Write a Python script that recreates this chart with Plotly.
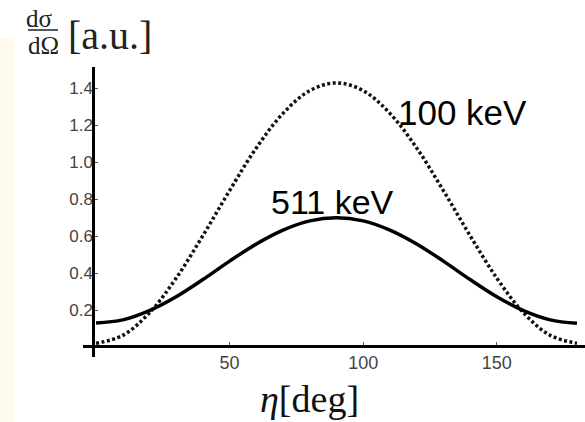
import plotly.graph_objects as go

# Data
eta_deg = [0, 10, 20, 30, 40, 50, 60, 70, 80, 90, 100, 110, 120, 130, 140, 150, 160, 170, 180]
sigma_511 = [0.13, 0.147, 0.197, 0.272, 0.365, 0.465, 0.558, 0.633, 0.683, 0.70,
             0.683, 0.633, 0.558, 0.465, 0.365, 0.272, 0.197, 0.147, 0.128]
sigma_100 = [0.02, 0.063, 0.185, 0.373, 0.603, 0.847, 1.078, 1.265, 1.388, 1.43,
             1.388, 1.265, 1.078, 0.847, 0.603, 0.373, 0.185, 0.063, 0.02]
x_ticks = [50, 100, 150]
y_ticks = [0.2, 0.4, 0.6, 0.8, 1.0, 1.2, 1.4]
labels = ["100 keV", "511 keV"]

W, H = 585, 422


def px(x):
    return x / W


def py(y):
    return 1 - y / H


fig = go.Figure()
fig.add_trace(go.Scatter(x=eta_deg, y=sigma_100, mode="lines",
                         line=dict(color="#111111", width=3.5, dash="3px,2.5px", shape="spline"),
                         showlegend=False, hoverinfo="skip"))
fig.add_trace(go.Scatter(x=eta_deg, y=sigma_511, mode="lines",
                         line=dict(color="black", width=3.5, shape="spline"),
                         showlegend=False, hoverinfo="skip"))

# pixel mapping: x=0 at 96px, 2.672 px/deg ; y=0 at 347px, 184.7 px/unit
x0pix, xs = 96.0, 2.672
y0pix, ys = 347.0, 184.7
xr = [(83 - x0pix) / xs, (585 - x0pix) / xs]
yr = [(y0pix - 357) / ys, (y0pix - 67) / ys]

fig.update_layout(
    width=W, height=H,
    margin=dict(l=0, r=0, t=0, b=0),
    paper_bgcolor="white", plot_bgcolor="white",
    xaxis=dict(domain=[px(83), 1], range=xr, anchor="free", position=py(346),
               showgrid=False, zeroline=False, showline=True, linewidth=3, linecolor="black",
               ticks="inside", ticklen=3, tickwidth=1, tickcolor="#555",
               tickvals=x_ticks, ticklabelstandoff=-1,
               tickfont=dict(family="Liberation Sans", size=18, color="#444")),
    yaxis=dict(domain=[py(357), py(67)], range=yr, anchor="free", position=px(93.3),
               showgrid=False, zeroline=False, showline=True, linewidth=3, linecolor="black",
               ticks="inside", ticklen=3, tickwidth=1, tickcolor="#555",
               tickvals=y_ticks, tickformat=".1f", ticklabelstandoff=-4,
               tickfont=dict(family="Liberation Sans", size=17, color="#444")),
    shapes=[
        dict(type="rect", xref="paper", yref="paper", x0=0, x1=px(14), y0=py(422), y1=py(38),
             fillcolor="#FFF9EE", line=dict(width=0), layer="below"),
        dict(type="line", xref="paper", yref="paper", x0=px(28), x1=px(58), y0=py(30), y1=py(30),
             line=dict(color="#222", width=1.5)),
    ],
    annotations=[
        dict(text=labels[0], xref="paper", yref="paper", x=px(462), y=py(113),
             xanchor="center", yanchor="middle", showarrow=False,
             font=dict(family="Liberation Sans", size=35, color="black")),
        dict(text=labels[1], xref="paper", yref="paper", x=px(332), y=py(202),
             xanchor="center", yanchor="middle", showarrow=False,
             font=dict(family="Liberation Sans", size=34, color="black")),
        dict(text="<i>η</i>[deg]", xref="paper", yref="paper", x=px(309), y=py(399),
             xanchor="center", yanchor="middle", showarrow=False,
             font=dict(family="Liberation Serif", size=38, color="#111")),
        dict(text="[a.u.]", xref="paper", yref="paper", x=px(110), y=py(35),
             xanchor="center", yanchor="middle", showarrow=False,
             font=dict(family="Liberation Serif", size=40, color="#222")),
        dict(text="dσ", xref="paper", yref="paper", x=px(39), y=py(19),
             xanchor="center", yanchor="middle", showarrow=False,
             font=dict(family="Liberation Serif", size=25, color="#222")),
        dict(text="dΩ", xref="paper", yref="paper", x=px(43), y=py(45),
             xanchor="center", yanchor="middle", showarrow=False,
             font=dict(family="Liberation Serif", size=25, color="#222")),
    ],
)

fig.write_html("out.html", config={"displayModeBar": False},
               post_script="document.body.style.margin='0';")
